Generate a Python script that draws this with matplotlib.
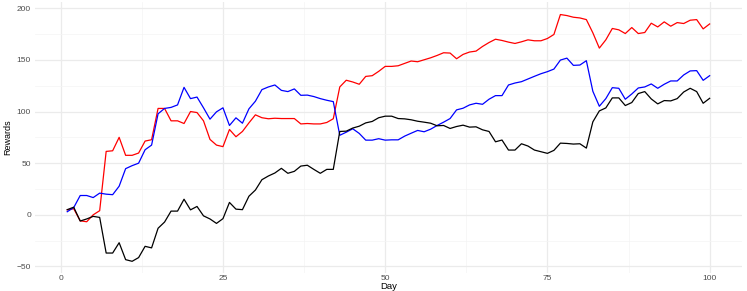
import numpy as np
import matplotlib
matplotlib.use("Agg")
import matplotlib.pyplot as plt

days = list(range(1, 101))

red = [4.8, 5.9, -5.8, -6.7, 0, 4, 61.4, 62, 75, 57.6,
       57.6, 59.8, 71.4, 72.7, 103, 103, 91, 91, 88.4, 100,
       99, 91, 73, 67.5, 66, 82.6, 75.6, 80.7, 89, 96.8,
       94, 93, 93.5, 93.2, 93.2, 93.2, 88, 88.4, 88, 88,
       89.4, 93, 123.8, 130.3, 128.6, 126.4, 134, 134.7, 138.9, 143.7,
       143.7, 144.3, 146.6, 148.9, 148.2, 150.1, 152, 154.3, 156.9, 156.6,
       151.1, 155.3, 157.6, 158.5, 163, 166.8, 170.0, 168.8, 167.2, 165.9,
       167.5, 169.4, 168.5, 168.5, 170.7, 174.6, 193.9, 192.9, 191.3, 190.6,
       189.0, 176.2, 161.4, 169.4, 180.4, 179.1, 175.5, 181.3, 175.5, 176.5,
       185.5, 181.9, 186.8, 182.6, 186.1, 185.2, 188.4, 189.0, 180.0, 184.8]

blue = [3, 7, 18.7, 18.7, 16.7, 21, 20, 19.5, 27.7, 44.7,
        47.6, 50, 63, 67.5, 97.8, 103, 104, 106.4, 123.4, 112.5,
        114, 103.6, 92.6, 99.7, 103.6, 86.5, 93.9, 88.7, 102.6, 110,
        121.2, 123.8, 125.7, 120.5, 119.3, 121.9, 115.7, 115.9, 114.5, 112.5,
        110.9, 109.6, 77, 80, 83.3, 78.8, 72.3, 72.3, 73.7, 72.3,
        72.6, 72.6, 76.2, 79, 81.7, 80.4, 82.9, 86.5, 89.7, 93.2,
        101.6, 103.2, 106.4, 108, 107, 111.9, 115.4, 115.4, 125.7, 127.6,
        128.9, 131.5, 134.1, 136.6, 138.6, 141.1, 149.8, 151.7, 144.7, 145.0,
        149.2, 119.6, 105.1, 112.5, 123.1, 122.5, 111.9, 117.0, 122.8, 123.8,
        126.7, 122.5, 126.4, 129.6, 129.6, 135.4, 139.3, 139.6, 130.2, 134.7]

black = [5, 7.4, -6, -4, -1.5, -2.5, -37, -37, -27, -43.4,
         -45, -41.4, -30.5, -32, -13, -7, 3.6, 3.6, 15.1, 4.8,
         8.1, -1, -4, -8.3, -3.7, 12, 5.5, 5, 18, 24,
         34, 37.6, 40.5, 45, 40.2, 42.1, 47.2, 48, 44, 40.2,
         44, 44, 80.7, 81, 84, 85.8, 89, 90.4, 94, 95.5,
         95.5, 93.2, 92.9, 92, 90.6, 89.7, 88.7, 86.2, 86.5, 83.6,
         85.5, 86.8, 84.9, 85.2, 82.3, 80.7, 70.7, 72.4, 62.7, 62.7,
         68.8, 66.6, 62.7, 61.1, 59.5, 62.4, 69.4, 69.1, 68.5, 68.8,
         64.6, 90.0, 100.6, 103.5, 113.2, 113.2, 105.8, 108.7, 117.4, 119.3,
         112.2, 107.4, 110.6, 110.3, 112.5, 118.9, 122.5, 119.3, 108.0, 112.8]

x_ticks = [0, 25, 50, 75, 100]
y_ticks = [-50, 0, 50, 100, 150, 200]

plt.rcParams['font.family'] = ['Liberation Sans', 'DejaVu Sans']

fig = plt.figure(figsize=(7.47, 2.91), dpi=100)
ax = fig.add_axes([0.047, 0.063, 0.946, 0.93])

ax.plot(days, red, color="red", lw=0.9)
ax.plot(days, blue, color="blue", lw=0.9)
ax.plot(days, black, color="black", lw=0.9)

ax.set_xlim(1 - 4.95, 100 + 4.95)
ax.set_ylim(-56, 206)
ax.set_xticks(x_ticks)
ax.set_yticks(y_ticks)
ax.set_xticks([12.5, 37.5, 62.5, 87.5], minor=True)
ax.set_yticks([-25, 25, 75, 125, 175], minor=True)
ax.grid(which="major", color="#EBEBEB", lw=0.9)
ax.grid(which="minor", color="#F4F4F4", lw=0.5)
ax.set_axisbelow(True)
for s in ax.spines.values():
    s.set_visible(False)
ax.tick_params(which="both", length=0, labelsize=6, labelcolor="#4D4D4D")
ax.tick_params(axis="x", pad=1.5)
ax.tick_params(axis="y", pad=3)
ax.set_xlabel("Day", fontsize=6.8, labelpad=0)
ax.set_ylabel("Rewards", fontsize=6.5, labelpad=3, fontstretch="condensed")

fig.savefig("out.png", dpi=100)
